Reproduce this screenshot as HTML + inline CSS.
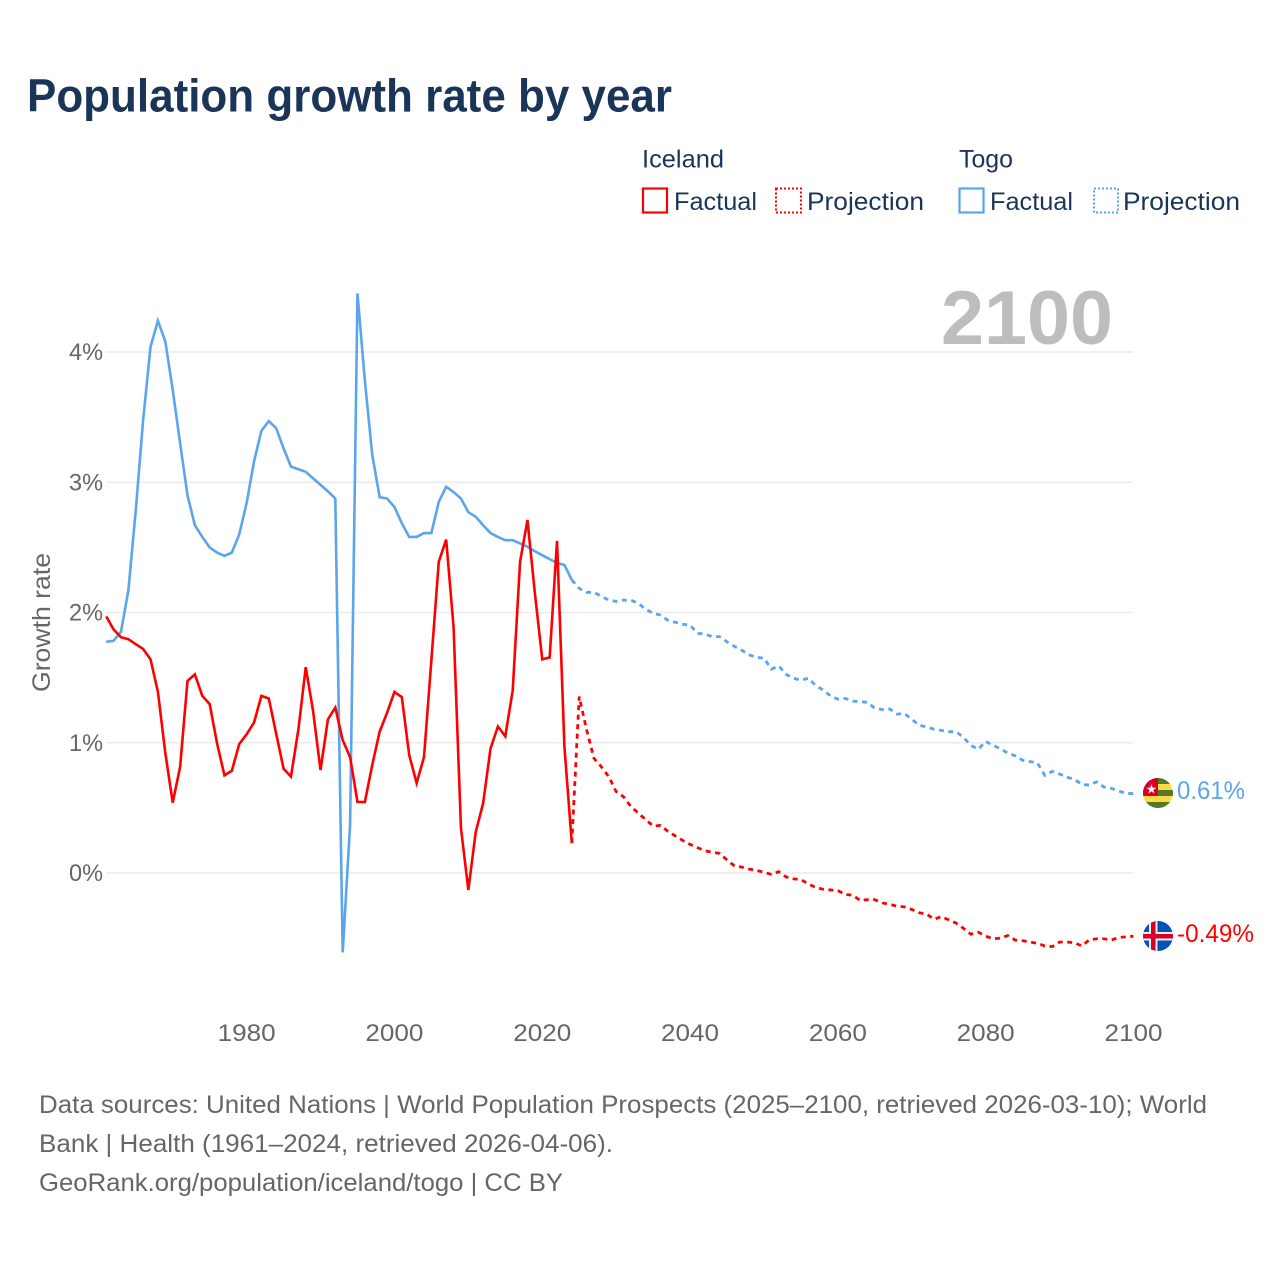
<!DOCTYPE html>
<html lang="en">
<head>
<meta charset="utf-8">
<title>Population growth rate by year</title>
<style>
html,body{margin:0;padding:0;background:#fff;}
svg{display:block;font-family:"Liberation Sans",sans-serif;}
.tick{font-size:24px;fill:#666;}
.foot{font-size:25px;fill:#666;}
.leg{font-size:25px;fill:#1a3557;}
</style>
</head>
<body>
<svg id="chart" width="1280" height="1280" viewBox="0 0 1280 1280" xmlns="http://www.w3.org/2000/svg">
  <rect x="0" y="0" width="1280" height="1280" fill="#fff"/>
  <text x="27" y="111.5" font-size="46" font-weight="700" fill="#1a3557" textLength="645" lengthAdjust="spacingAndGlyphs">Population growth rate by year</text>

  <g>
    <text class="leg" x="642" y="167.5" textLength="82" lengthAdjust="spacingAndGlyphs">Iceland</text>
    <rect x="643" y="188.5" width="24" height="24" fill="none" stroke="#ff0000" stroke-width="2.2"/>
    <text class="leg" x="674" y="210" textLength="83" lengthAdjust="spacingAndGlyphs">Factual</text>
    <rect x="776" y="188.5" width="25" height="24" fill="none" stroke="#ff0000" stroke-width="2" stroke-dasharray="2 2"/>
    <text class="leg" x="807" y="210" textLength="117" lengthAdjust="spacingAndGlyphs">Projection</text>
    <text class="leg" x="959" y="167.5" textLength="54" lengthAdjust="spacingAndGlyphs">Togo</text>
    <rect x="959.5" y="188.5" width="24" height="24" fill="none" stroke="#5ba4ee" stroke-width="2.2"/>
    <text class="leg" x="990" y="210" textLength="83" lengthAdjust="spacingAndGlyphs">Factual</text>
    <rect x="1094" y="188.5" width="24" height="24" fill="none" stroke="#5ba4ee" stroke-width="2" stroke-dasharray="2 2"/>
    <text class="leg" x="1123" y="210" textLength="117" lengthAdjust="spacingAndGlyphs">Projection</text>
  </g>

  <g id="grid"></g>
  <g id="yticks"></g>
  <g id="xticks"></g>
  <text transform="translate(50,692) rotate(-90)" font-size="25" fill="#666" textLength="139" lengthAdjust="spacingAndGlyphs">Growth rate</text>
  <text x="941" y="344" font-size="76" font-weight="700" fill="#bdbdbd" textLength="172" lengthAdjust="spacingAndGlyphs">2100</text>

  <g id="series"></g>

  <defs>
    <clipPath id="flag-clip-togo"><circle cx="1158" cy="793" r="15"/></clipPath>
    <clipPath id="flag-clip-iceland"><circle cx="1158" cy="936" r="15"/></clipPath>
  </defs>
  <g clip-path="url(#flag-clip-togo)">
    <rect x="1143" y="778" width="30" height="30" fill="#ffda44"/>
    <rect x="1143" y="778" width="30" height="6" fill="#527a2b"/>
    <rect x="1143" y="790" width="30" height="6" fill="#527a2b"/>
    <rect x="1143" y="802" width="30" height="6" fill="#527a2b"/>
    <rect x="1143" y="778" width="15" height="18" fill="#d80027"/>
    <text x="1151.5" y="793.5" font-size="13" fill="#f0f0f0" text-anchor="middle">★</text>
  </g>
  <g clip-path="url(#flag-clip-iceland)">
    <rect x="1143" y="921" width="30" height="30" fill="#0052b4"/>
    <rect x="1143" y="932" width="30" height="8.5" fill="#f0f0f0"/>
    <rect x="1149" y="921" width="8.5" height="30" fill="#f0f0f0"/>
    <rect x="1143" y="934" width="30" height="4.5" fill="#d80027"/>
    <rect x="1151" y="921" width="4.5" height="30" fill="#d80027"/>
  </g>
  <text x="1177" y="799" font-size="25" fill="#5ba4ee" textLength="68" lengthAdjust="spacingAndGlyphs">0.61%</text>
  <text x="1177" y="942" font-size="25" fill="#ff0000" textLength="77" lengthAdjust="spacingAndGlyphs">-0.49%</text>

  <g>
    <text class="foot" x="39" y="1113" textLength="1168" lengthAdjust="spacingAndGlyphs">Data sources: United Nations | World Population Prospects (2025–2100, retrieved 2026-03-10); World</text>
    <text class="foot" x="39" y="1152" textLength="574" lengthAdjust="spacingAndGlyphs">Bank | Health (1961–2024, retrieved 2026-04-06).</text>
    <text class="foot" x="39" y="1191" textLength="524" lengthAdjust="spacingAndGlyphs">GeoRank.org/population/iceland/togo | CC BY</text>
  </g>
</svg>
<script>
const factualStartYear = 1961;
const projectionStartYear = 2024;
const xTickYears = [1980, 2000, 2020, 2040, 2060, 2080, 2100];
const yTickValues = [0, 1, 2, 3, 4];
const yTickLabels = ["0%", "1%", "2%", "3%", "4%"];

const togoFactual = [1.775,1.783,1.852,2.17,2.785,3.48,4.04,4.24,4.08,3.71,3.30,2.90,2.67,2.58,2.50,2.46,2.435,2.46,2.60,2.84,3.16,3.395,3.47,3.415,3.26,3.12,3.10,3.08,3.03,2.98,2.93,2.875,-0.61,0.37,4.45,3.78,3.21,2.885,2.875,2.81,2.685,2.58,2.58,2.61,2.61,2.85,2.965,2.925,2.875,2.77,2.735,2.67,2.61,2.58,2.555,2.555,2.53,2.505,2.47,2.44,2.41,2.38,2.365,2.25];
const togoProjection = [2.25,2.185,2.155,2.155,2.125,2.095,2.085,2.095,2.095,2.07,2.025,1.995,1.98,1.94,1.925,1.91,1.903,1.84,1.835,1.815,1.815,1.775,1.74,1.71,1.675,1.655,1.65,1.565,1.59,1.525,1.495,1.48,1.495,1.44,1.405,1.36,1.335,1.34,1.32,1.315,1.31,1.265,1.255,1.26,1.22,1.225,1.18,1.135,1.12,1.105,1.095,1.085,1.085,1.04,0.98,0.95,1.01,0.98,0.955,0.92,0.90,0.865,0.855,0.845,0.75,0.78,0.76,0.735,0.72,0.68,0.675,0.70,0.66,0.65,0.63,0.61,0.61];
const icelandFactual = [1.97,1.87,1.81,1.795,1.757,1.72,1.64,1.39,0.92,0.54,0.815,1.475,1.525,1.36,1.297,0.995,0.75,0.785,0.99,1.065,1.155,1.36,1.34,1.07,0.80,0.74,1.10,1.58,1.24,0.79,1.18,1.27,1.02,0.89,0.545,0.545,0.83,1.085,1.23,1.39,1.35,0.905,0.69,0.89,1.635,2.39,2.56,1.89,0.345,-0.13,0.315,0.535,0.955,1.125,1.05,1.40,2.39,2.71,2.15,1.64,1.655,2.55,0.97,0.23];
const icelandProjection = [0.23,1.355,1.10,0.88,0.815,0.74,0.625,0.585,0.51,0.46,0.41,0.36,0.365,0.32,0.285,0.25,0.22,0.195,0.17,0.16,0.15,0.10,0.055,0.045,0.03,0.02,0.005,-0.01,0.01,-0.03,-0.045,-0.05,-0.085,-0.11,-0.125,-0.13,-0.135,-0.165,-0.17,-0.21,-0.205,-0.205,-0.23,-0.24,-0.255,-0.26,-0.28,-0.305,-0.315,-0.355,-0.335,-0.36,-0.385,-0.425,-0.47,-0.455,-0.485,-0.505,-0.50,-0.48,-0.515,-0.52,-0.53,-0.54,-0.56,-0.565,-0.53,-0.53,-0.535,-0.56,-0.515,-0.505,-0.505,-0.515,-0.495,-0.49,-0.485];

const SVG_NS = "http://www.w3.org/2000/svg";
function xScale(year) { return 106.2 + (year - 1961) * (1133.5 - 106.2) / 139; }
function yScale(value) { return 873 - value * 130.25; }
function linePath(values, startYear) {
  return values.map(function (v, i) {
    return (i ? "L" : "M") + xScale(startYear + i).toFixed(2) + " " + yScale(v).toFixed(2);
  }).join(" ");
}
const gridGroup = document.getElementById("grid");
const yTickGroup = document.getElementById("yticks");
const xTickGroup = document.getElementById("xticks");
const seriesGroup = document.getElementById("series");

yTickValues.forEach(function (v, i) {
  const line = document.createElementNS(SVG_NS, "line");
  line.setAttribute("x1", 106);
  line.setAttribute("x2", 1133);
  line.setAttribute("y1", yScale(v));
  line.setAttribute("y2", yScale(v));
  line.setAttribute("stroke", "#ebebeb");
  line.setAttribute("stroke-width", "1.4");
  
  
  gridGroup.appendChild(line);

  const label = document.createElementNS(SVG_NS, "text");
  label.setAttribute("x", 103);
  label.setAttribute("y", yScale(v) + 8);
  label.setAttribute("text-anchor", "end");
  label.setAttribute("class", "tick");
  label.setAttribute("textLength", "34");
  label.setAttribute("lengthAdjust", "spacingAndGlyphs");
  label.textContent = yTickLabels[i];
  
  
  yTickGroup.appendChild(label);
});

xTickYears.forEach(function (year) {
  const label = document.createElementNS(SVG_NS, "text");
  label.setAttribute("x", xScale(year));
  label.setAttribute("y", 1041);
  label.setAttribute("text-anchor", "middle");
  label.setAttribute("class", "tick");
  label.setAttribute("textLength", "58");
  label.setAttribute("lengthAdjust", "spacingAndGlyphs");
  label.textContent = String(year);
  
  
  xTickGroup.appendChild(label);
});

function addLine(values, startYear, color, dashed) {
  const path = document.createElementNS(SVG_NS, "path");
  path.setAttribute("d", linePath(values, startYear));
  path.setAttribute("fill", "none");
  path.setAttribute("stroke", color);
  path.setAttribute("stroke-width", dashed ? "2.8" : "2.6");
  path.setAttribute("stroke-linejoin", "miter");
  if (dashed) { path.setAttribute("stroke-dasharray", "5 4.5"); }
  seriesGroup.appendChild(path);
  return path;
}
const togoFactualLine = addLine(togoFactual, factualStartYear, "#5ba4ee", false);


const togoProjectionLine = addLine(togoProjection, projectionStartYear, "#5ba4ee", true);


const icelandFactualLine = addLine(icelandFactual, factualStartYear, "#ff0000", false);


const icelandProjectionLine = addLine(icelandProjection, projectionStartYear, "#ff0000", true);


</script>
</body>
</html>
